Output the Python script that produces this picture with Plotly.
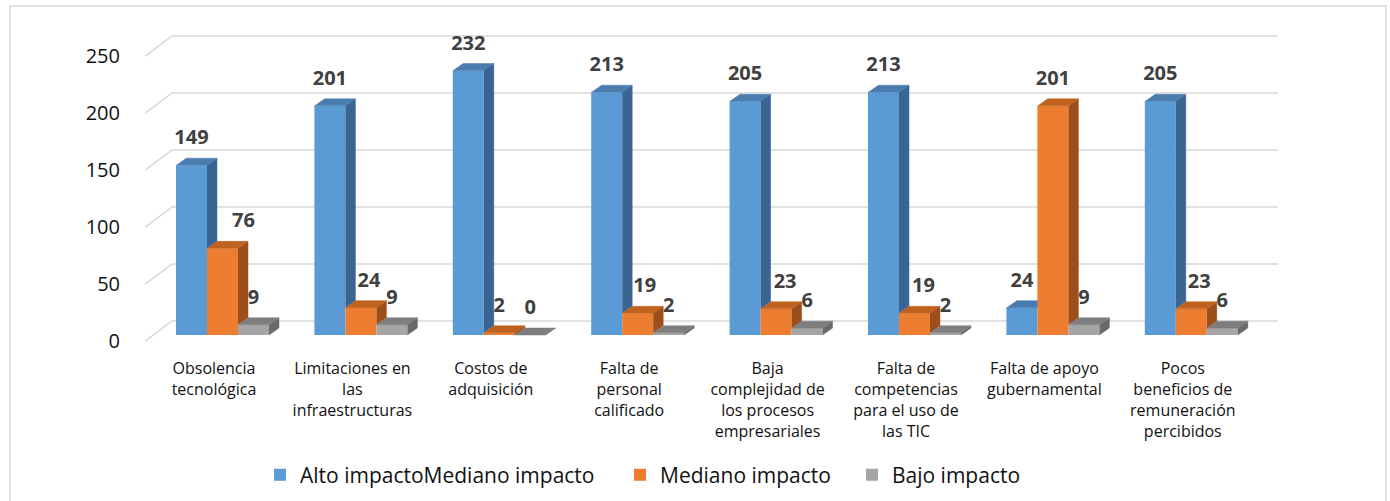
import plotly.graph_objects as go

# ---------------- data ----------------
categories = [
    "Obsolencia<br>tecnológica",
    "Limitaciones en<br>las<br>infraestructuras",
    "Costos de<br>adquisición",
    "Falta de<br>personal<br>calificado",
    "Baja<br>complejidad de<br>los procesos<br>empresariales",
    "Falta de<br>competencias<br>para el uso de<br>las TIC",
    "Falta de apoyo<br>gubernamental",
    "Pocos<br>beneficios de<br>remuneración<br>percibidos",
]
alto = [149, 201, 232, 213, 205, 213, 24, 205]
mediano = [76, 24, 2, 19, 23, 19, 201, 23]
bajo = [9, 9, 0, 2, 6, 2, 9, 6]
series_names = ["Alto impactoMediano impacto", "Mediano impacto", "Bajo impacto"]
y_ticks = [0, 50, 100, 150, 200, 250]

# ---------------- styling / geometry ----------------
W, H = 1390, 501
L, R, T, B = 145, 112, 20, 151
PX_CAT = 138.4          # px per category
PX_UNIT = 1.14          # px per value unit
BAR_BASE_PX = 335       # pixel row of bar bottoms
CAT0_PX = 214           # pixel x of first category centre

x_range = [(L - CAT0_PX) / PX_CAT, (W - R - CAT0_PX) / PX_CAT]
y_range = [(BAR_BASE_PX - (H - B)) / PX_UNIT, (BAR_BASE_PX - T) / PX_UNIT]

bar_w = 31 / PX_CAT
offsets = [-38 / PX_CAT, -7 / PX_CAT, 24 / PX_CAT]
dx = 10 / PX_CAT
dy = 7 / PX_UNIT
front_off = 5.5       # value units the front grid edge sits below the bar base
back_off = 12.3       # value units the back wall grid sits above
back_left_x = (172 - CAT0_PX) / PX_CAT
label_lift = 26 / PX_UNIT
orange_label_nudge_px = [21, 8, 0, 7, 9, 9, 0, 8]
legend_left_px = [260, 620, 852]
legend_mid_px = 475

front_cols = ["#5B9BD5", "#ED7D31", "#A5A5A5"]
top_cols = ["#4A7CB0", "#BF621F", "#7E7E7E"]
side_cols = ["#3A6590", "#9C4E1B", "#6A6A6A"]
FONT = "Open Sans"
legend_ids = ["legend", "legend2", "legend3"]

values = [alto, mediano, bajo]
n = len(categories)
pw = W - L - R
ph = H - T - B

fig = go.Figure()

# front faces as real bars
for s in range(3):
    fig.add_trace(go.Bar(
        x=list(range(n)), y=values[s], name=series_names[s],
        offset=offsets[s], width=bar_w, legend=legend_ids[s],
        marker=dict(color=front_cols[s], line=dict(width=0)),
        hoverinfo="skip",
    ))

# 3D top and side faces
for s in range(3):
    tx, ty, sx, sy = [], [], [], []
    for i in range(n):
        v = values[s][i]
        vn = values[s + 1][i] if s < 2 else None
        xl = i + offsets[s]
        xr = xl + bar_w
        if vn is None or v >= vn:
            pts = [(xl, v), (xr, v), (xr + dx, v + dy), (xl + dx, v + dy)]
        else:
            pts = [(xl, v), (xr, v), (xr, v + dy), (xl + dx, v + dy)]
        for p in pts:
            tx.append(p[0]); ty.append(p[1])
        tx.append(None); ty.append(None)
        base = vn if vn is not None else 0
        if v > base:
            pts = [(xr, base), (xr + dx, base + dy), (xr + dx, v + dy), (xr, v)]
            for p in pts:
                sx.append(p[0]); sy.append(p[1])
            sx.append(None); sy.append(None)
    fig.add_trace(go.Scatter(x=sx, y=sy, mode="lines", fill="toself",
                             fillcolor=side_cols[s],
                             line=dict(color=side_cols[s], width=0.5),
                             showlegend=False, hoverinfo="skip"))
    fig.add_trace(go.Scatter(x=tx, y=ty, mode="lines", fill="toself",
                             fillcolor=top_cols[s],
                             line=dict(color=top_cols[s], width=0.5),
                             showlegend=False, hoverinfo="skip"))

# data labels
for s in range(3):
    xs = []
    for i in range(n):
        nudge = orange_label_nudge_px[i] / PX_CAT if s == 1 else 0
        xs.append(i + offsets[s] + bar_w / 2 + nudge)
    fig.add_trace(go.Scatter(
        x=xs, y=[v + label_lift for v in values[s]], mode="text",
        text=[str(v) for v in values[s]],
        textfont=dict(family=FONT, size=20, color="#404040", weight="bold"),
        showlegend=False, hoverinfo="skip", cliponaxis=False,
    ))

# gridlines (floor diagonal + back wall), below traces
shapes = []
for v in y_ticks:
    path = (f"M {x_range[0]},{v - front_off} L {back_left_x},{v + back_off} "
            f"L {x_range[1]},{v + back_off}")
    shapes.append(dict(type="path", path=path, xref="x", yref="y",
                       line=dict(color="#D9D9D9", width=1.6), layer="below"))
# outer chart border
shapes.append(dict(type="rect", xref="paper", yref="paper",
                   x0=(10 - L) / pw, x1=(1386 - L) / pw,
                   y0=((H - B) - 505) / ph, y1=((H - B) - 6) / ph,
                   line=dict(color="#D9D9D9", width=1.5), layer="below"))

legend_style = dict(orientation="h", xanchor="left", yanchor="middle",
                    y=((H - B) - legend_mid_px) / ph,
                    font=dict(family=FONT, size=21, color="#111111"),
                    bgcolor="rgba(0,0,0,0)")
legends = {}
for s in range(3):
    legends[legend_ids[s]] = dict(legend_style, x=(legend_left_px[s] - L) / pw)

fig.update_layout(
    width=W, height=H, autosize=False,
    margin=dict(l=L, r=R, t=T, b=B, pad=0, autoexpand=False),
    paper_bgcolor="white", plot_bgcolor="white",
    barmode="overlay",
    shapes=shapes,
    font=dict(family=FONT, color="#111111"),
    xaxis=dict(range=x_range, tickmode="array", tickvals=list(range(n)),
               ticktext=categories, showgrid=False, zeroline=False,
               showline=False, ticks="outside", ticklen=4,
               tickcolor="rgba(0,0,0,0)", automargin=False,
               tickfont=dict(family=FONT, size=16, color="#111111")),
    yaxis=dict(range=y_range, tickmode="array",
               tickvals=[v - front_off for v in y_ticks],
               ticktext=[str(v) for v in y_ticks],
               showgrid=False, zeroline=False, showline=False,
               ticks="outside", ticklen=20, tickcolor="rgba(0,0,0,0)",
               automargin=False,
               tickfont=dict(family=FONT, size=20, color="#111111")),
    **legends,
)

fig.write_html("out.html", config={"displayModeBar": False},
               post_script="document.body.style.margin='0';")
